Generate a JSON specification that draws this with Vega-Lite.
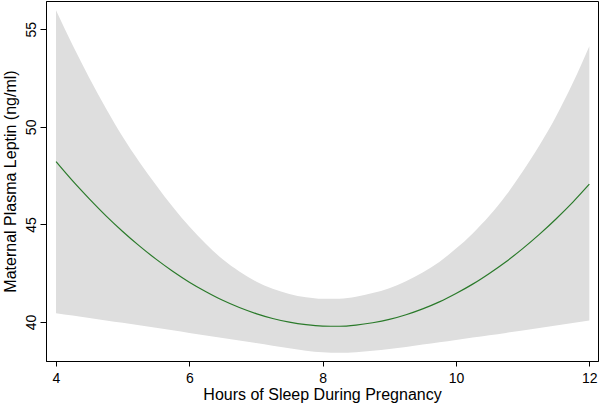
{
  "$schema": "https://vega.github.io/schema/vega-lite/v6.json",
  "width": 552,
  "height": 360,
  "autosize": {"type": "none"},
  "padding": {"left": 46, "top": 1, "right": 2, "bottom": 44},
  "background": "white",
  "config": {
    "view": {"stroke": "black", "strokeWidth": 1},
    "axis": {
      "grid": false,
      "domainColor": "black",
      "tickColor": "black",
      "labelColor": "black",
      "titleColor": "black",
      "labelFont": "Liberation Sans",
      "titleFont": "Liberation Sans",
      "titleFontWeight": "normal",
      "labelFontSize": 14,
      "titleFontSize": 16,
      "tickSize": 5
    }
  },
  "data": {
    "values": [
      {"hours": 4.0, "fit": 48.22, "lo": 40.45, "hi": 55.97},
      {"hours": 4.25, "fit": 47.23, "lo": 40.33, "hi": 54.18},
      {"hours": 4.5, "fit": 46.31, "lo": 40.2, "hi": 52.51},
      {"hours": 4.75, "fit": 45.44, "lo": 40.08, "hi": 50.94},
      {"hours": 5.0, "fit": 44.64, "lo": 39.96, "hi": 49.49},
      {"hours": 5.25, "fit": 43.9, "lo": 39.83, "hi": 48.2},
      {"hours": 5.5, "fit": 43.22, "lo": 39.7, "hi": 47.02},
      {"hours": 5.75, "fit": 42.6, "lo": 39.57, "hi": 45.9},
      {"hours": 6.0, "fit": 42.04, "lo": 39.44, "hi": 44.89},
      {"hours": 6.25, "fit": 41.55, "lo": 39.31, "hi": 44.0},
      {"hours": 6.5, "fit": 41.11, "lo": 39.18, "hi": 43.21},
      {"hours": 6.75, "fit": 40.74, "lo": 39.05, "hi": 42.59},
      {"hours": 7.0, "fit": 40.43, "lo": 38.92, "hi": 42.08},
      {"hours": 7.25, "fit": 40.18, "lo": 38.78, "hi": 41.7},
      {"hours": 7.5, "fit": 39.99, "lo": 38.65, "hi": 41.44},
      {"hours": 7.75, "fit": 39.86, "lo": 38.53, "hi": 41.27},
      {"hours": 8.0, "fit": 39.79, "lo": 38.45, "hi": 41.19},
      {"hours": 8.25, "fit": 39.78, "lo": 38.42, "hi": 41.19},
      {"hours": 8.5, "fit": 39.84, "lo": 38.45, "hi": 41.29},
      {"hours": 8.75, "fit": 39.96, "lo": 38.53, "hi": 41.48},
      {"hours": 9.0, "fit": 40.13, "lo": 38.62, "hi": 41.73},
      {"hours": 9.25, "fit": 40.37, "lo": 38.72, "hi": 42.09},
      {"hours": 9.5, "fit": 40.67, "lo": 38.84, "hi": 42.54},
      {"hours": 9.75, "fit": 41.03, "lo": 38.96, "hi": 43.08},
      {"hours": 10.0, "fit": 41.46, "lo": 39.08, "hi": 43.76},
      {"hours": 10.25, "fit": 41.94, "lo": 39.2, "hi": 44.54},
      {"hours": 10.5, "fit": 42.49, "lo": 39.32, "hi": 45.44},
      {"hours": 10.75, "fit": 43.09, "lo": 39.44, "hi": 46.49},
      {"hours": 11.0, "fit": 43.76, "lo": 39.56, "hi": 47.71},
      {"hours": 11.25, "fit": 44.49, "lo": 39.69, "hi": 49.04},
      {"hours": 11.5, "fit": 45.28, "lo": 39.82, "hi": 50.53},
      {"hours": 11.75, "fit": 46.13, "lo": 39.95, "hi": 52.23},
      {"hours": 12.0, "fit": 47.06, "lo": 40.08, "hi": 54.13}
    ]
  },
  "layer": [
    {
      "mark": {"type": "area", "color": "#dedede", "opacity": 1, "interpolate": "monotone"},
      "encoding": {
        "x": {
          "field": "hours", "type": "quantitative",
          "scale": {"domain": [3.85, 12.13], "nice": false, "zero": false},
          "axis": {"values": [4, 6, 8, 10, 12], "format": "d", "title": "Hours of Sleep During Pregnancy", "labelPadding": 5, "titlePadding": 1}
        },
        "y": {
          "field": "lo", "type": "quantitative",
          "scale": {"domain": [38, 56.45], "nice": false, "zero": false},
          "axis": {"values": [40, 45, 50, 55], "format": "d", "title": "Maternal Plasma Leptin (ng/ml)", "labelAngle": -90, "labelAlign": "center", "labelBaseline": "bottom", "labelPadding": 2, "tickSize": 6, "titlePadding": 6}
        },
        "y2": {"field": "hi"}
      }
    },
    {
      "mark": {"type": "line", "color": "#2a7a2a", "strokeWidth": 1.2, "interpolate": "monotone"},
      "encoding": {
        "x": {"field": "hours", "type": "quantitative"},
        "y": {"field": "fit", "type": "quantitative"}
      }
    }
  ]
}
